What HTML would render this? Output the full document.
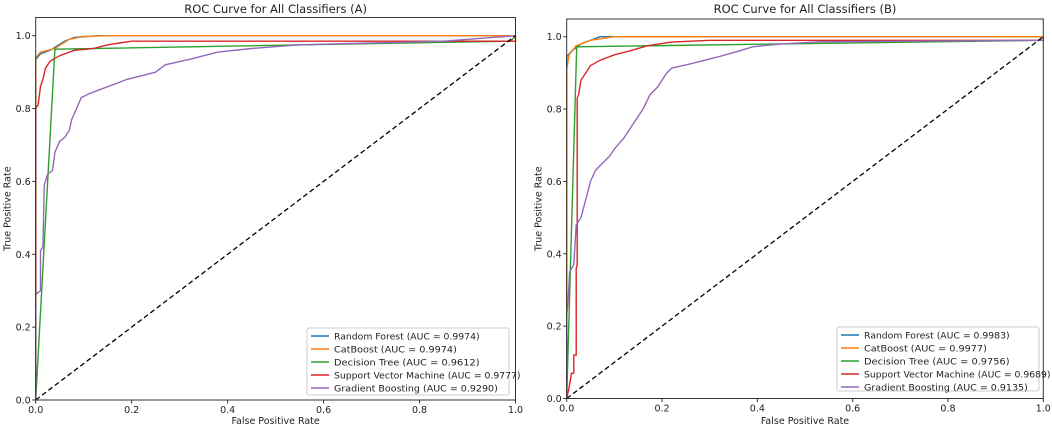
<!DOCTYPE html>
<html><head><meta charset="utf-8"><style>
body{margin:0;background:#fff;}
svg{display:block;font-family:"DejaVu Sans","Liberation Sans",sans-serif;}
</style></head><body>
<svg id="chart" width="1052" height="429"></svg>
<script>
const seriesNames = ["Random Forest","CatBoost","Decision Tree","Support Vector Machine","Gradient Boosting"];
const seriesColors = ["#1f77b4","#ff7f0e","#2ca02c","#d62728","#9467bd"];
const ticks = [0,0.2,0.4,0.6,0.8,1.0];
const tickLabels = ["0.0","0.2","0.4","0.6","0.8","1.0"];
const aucA = ["0.9974","0.9974","0.9612","0.9777","0.9290"];
const aucB = ["0.9983","0.9977","0.9756","0.9689","0.9135"];
// Panel A curves [fpr,tpr]
const rfA = [[0,0],[0,0.935],[0.01,0.95],[0.03,0.96],[0.06,0.985],[0.08,0.995],[0.13,1],[1,1]];
const cbA = [[0,0],[0,0.94],[0.01,0.955],[0.04,0.965],[0.07,0.99],[0.1,0.998],[0.15,1],[1,1]];
const dtA = [[0,0],[0.04,0.963],[0.99,0.985],[1,1]];
const svmA = [[0,0],[0,0.8],[0.005,0.81],[0.01,0.86],[0.015,0.88],[0.02,0.91],[0.03,0.93],[0.05,0.945],[0.08,0.96],[0.12,0.965],[0.15,0.975],[0.2,0.985],[1,0.985],[1,1]];
const gbA = [[0,0],[0,0.29],[0.01,0.3],[0.01,0.41],[0.015,0.42],[0.018,0.59],[0.025,0.62],[0.035,0.63],[0.04,0.68],[0.05,0.71],[0.06,0.72],[0.07,0.74],[0.075,0.77],[0.085,0.8],[0.095,0.83],[0.11,0.84],[0.13,0.85],[0.15,0.86],[0.17,0.87],[0.19,0.88],[0.22,0.89],[0.25,0.9],[0.27,0.92],[0.32,0.935],[0.38,0.955],[0.45,0.965],[0.55,0.975],[0.7,0.98],[0.85,0.985],[1,1]];
// Panel B curves
const rfB = [[0,0],[0,0.945],[0.01,0.96],[0.03,0.98],[0.05,0.99],[0.07,1],[1,1]];
const cbB = [[0,0],[0,0.91],[0.005,0.95],[0.02,0.975],[0.05,0.99],[0.1,1],[1,1]];
const dtB = [[0,0],[0.021,0.972],[1,0.99],[1,1]];
const svmB = [[0,0],[0.005,0.03],[0.01,0.07],[0.015,0.07],[0.015,0.12],[0.02,0.12],[0.02,0.36],[0.022,0.37],[0.022,0.83],[0.025,0.84],[0.03,0.88],[0.04,0.9],[0.05,0.92],[0.07,0.935],[0.1,0.95],[0.13,0.96],[0.17,0.975],[0.22,0.985],[0.3,0.99],[1,0.99],[1,1]];
const gbB = [[0,0],[0,0.23],[0.003,0.27],[0.006,0.35],[0.015,0.37],[0.02,0.48],[0.03,0.5],[0.04,0.55],[0.05,0.6],[0.06,0.63],[0.075,0.65],[0.09,0.67],[0.1,0.69],[0.12,0.72],[0.14,0.76],[0.16,0.8],[0.175,0.84],[0.19,0.86],[0.21,0.9],[0.22,0.913],[0.26,0.925],[0.32,0.945],[0.36,0.96],[0.39,0.972],[0.45,0.98],[0.53,0.986],[1,0.99],[1,1]];

const NS="http://www.w3.org/2000/svg";
const svg=document.getElementById('chart');
function mk(tag,attrs,parent){const e=document.createElementNS(NS,tag);for(const k in attrs)e.setAttribute(k,attrs[k]);(parent||svg).appendChild(e);return e;}

function panel(id,x0,x1,y0,y1,top,curves,aucs,letter,leg){
  const g=mk('g',{});
  
  
  const sx=v=>x0+v*(x1-x0), sy=v=>y0-v*(y0-y1);
  const pts=(arr)=>arr.map(p=>sx(p[0]).toFixed(1)+','+sy(p[1]).toFixed(1)).join(' ');
  curves.forEach((c,i)=>{
    const l=mk('polyline',{points:pts(c),fill:'none',stroke:seriesColors[i],'stroke-width':1.4},g);
    
    
  });
  const d=mk('line',{x1:sx(0),y1:sy(0),x2:sx(1),y2:sy(1),stroke:'#000','stroke-width':1.3,'stroke-dasharray':'5,3'},g);
  
  
  const fr=mk('rect',{x:x0,y:top,width:x1-x0,height:y0-top,fill:'none',stroke:'#333','stroke-width':1},g);
  
  
  ticks.forEach((t,i)=>{
    mk('line',{x1:sx(t),y1:y0,x2:sx(t),y2:y0+3.5,stroke:'#333'},g);
    const tx=mk('text',{x:sx(t),y:y0+13,'font-size':9.5,'text-anchor':'middle',fill:'#222'},g);
    tx.textContent=tickLabels[i];
    
    
    mk('line',{x1:x0,y1:sy(t),x2:x0-3.5,y2:sy(t),stroke:'#333'},g);
    const ty=mk('text',{x:x0-5,y:sy(t)+3.5,'font-size':9.5,'text-anchor':'end',fill:'#222'},g);
    ty.textContent=tickLabels[i];
    
    
  });
  const xl=mk('text',{x:(x0+x1)/2,y:424,'font-size':9.5,'text-anchor':'middle',fill:'#222'},g);
  xl.textContent='False Positive Rate';
  
  
  const yc=(top+y0)/2;
  const yl=mk('text',{x:x0-25,y:yc,'font-size':9.5,'text-anchor':'middle',fill:'#222',transform:'rotate(-90 '+(x0-25)+' '+yc+')'},g);
  yl.textContent='True Positive Rate';
  
  
  const ti=mk('text',{x:(x0+x1)/2,y:13,'font-size':11.5,'text-anchor':'middle',fill:'#222'},g);
  ti.textContent='ROC Curve for All Classifiers  ('+letter+')';
  
  
  const lg=mk('g',{},g);
  
  
  mk('rect',{x:leg[0],y:leg[1],width:leg[2],height:leg[3],fill:'#fff',stroke:'#ccc',rx:2},lg);
  seriesNames.forEach((n,i)=>{
    const yy=leg[1]+8+i*13;
    mk('line',{x1:leg[0]+4,y1:yy,x2:leg[0]+22,y2:yy,stroke:seriesColors[i],'stroke-width':1.5},lg);
    const t=mk('text',{x:leg[0]+27,y:yy+3.5,'font-size':9,fill:'#222',textLength:(n.length+19)*4.55,lengthAdjust:'spacingAndGlyphs'},lg);
    t.textContent=n+' (AUC = '+aucs[i]+')';
    
    
  });
}
panel('a',35.7,515.5,400,35.7,17.5,[rfA,cbA,dtA,svmA,gbA],aucA,'A',[307,328,202,67]);
panel('b',566.7,1043.3,398.5,36.7,19,[rfB,cbB,dtB,svmB,gbB],aucB,'B',[837,327,202,64]);
</script>
</body></html>
